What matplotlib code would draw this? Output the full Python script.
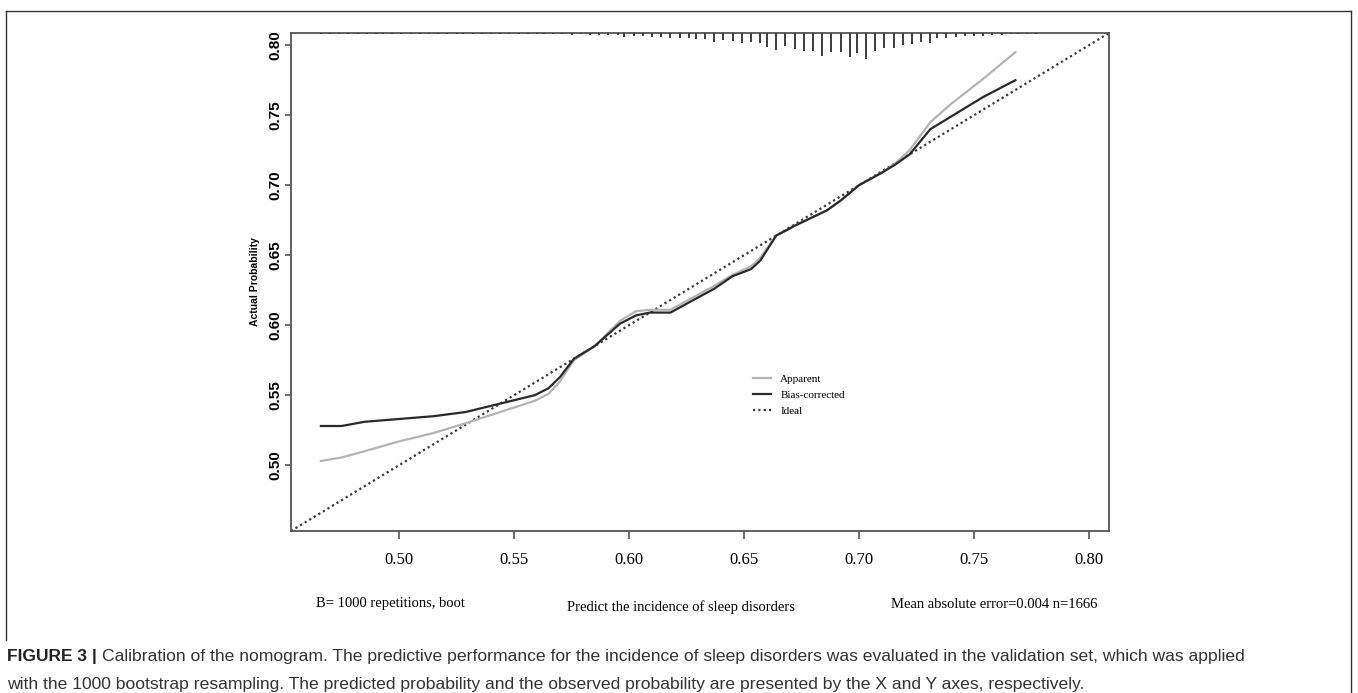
import numpy as np
import matplotlib.pyplot as plt
from matplotlib.lines import Line2D
import matplotlib.transforms as mtransforms

# 곡선 데이터
pred_x = [0.466, 0.475, 0.485, 0.500, 0.515, 0.529, 0.544, 0.559, 0.565, 0.570,
          0.576, 0.585, 0.596, 0.603, 0.609, 0.618, 0.628, 0.637, 0.645, 0.653,
          0.657, 0.664, 0.672, 0.686, 0.692, 0.700, 0.710, 0.716, 0.722, 0.731,
          0.740, 0.754, 0.768]
apparent = [0.503, 0.5055, 0.510, 0.517, 0.523, 0.530, 0.538, 0.546, 0.551, 0.560,
            0.575, 0.585, 0.603, 0.610, 0.611, 0.611, 0.620, 0.628, 0.636, 0.642,
            0.648, 0.664, 0.671, 0.682, 0.689, 0.700, 0.709, 0.716, 0.725, 0.745,
            0.758, 0.776, 0.795]
bias_corrected = [0.528, 0.528, 0.531, 0.533, 0.535, 0.538, 0.544, 0.550, 0.555, 0.563,
                  0.576, 0.585, 0.601, 0.607, 0.609, 0.609, 0.618, 0.626, 0.635, 0.640,
                  0.646, 0.664, 0.671, 0.682, 0.689, 0.700, 0.709, 0.715, 0.722, 0.740,
                  0.749, 0.763, 0.775]

# 상단 rug (예측값 분포)
rug_x = [0.466, 0.470, 0.474, 0.478, 0.482, 0.486, 0.490, 0.493, 0.497, 0.501,
         0.505, 0.509, 0.513, 0.517, 0.521, 0.525, 0.528, 0.532, 0.536, 0.540,
         0.544, 0.548, 0.552, 0.556, 0.560, 0.563, 0.567, 0.571, 0.575, 0.579,
         0.583, 0.587, 0.591, 0.595, 0.598, 0.602, 0.606, 0.610, 0.614, 0.618,
         0.622, 0.626, 0.629, 0.633, 0.637, 0.641, 0.645, 0.649, 0.653, 0.657,
         0.660, 0.664, 0.668, 0.672, 0.676, 0.680, 0.684, 0.688, 0.692, 0.696,
         0.699, 0.703, 0.707, 0.711, 0.715, 0.719, 0.723, 0.727, 0.731, 0.734,
         0.738, 0.742, 0.746, 0.750, 0.754, 0.758, 0.762, 0.766, 0.769, 0.773,
         0.777]
rug_freq = [1, 1, 1, 1, 1, 1, 1.5, 1, 1, 1,
            1, 1, 1, 1, 1, 1, 1, 1, 1, 1,
            1, 1, 1, 1, 1.5, 1, 1.5, 1.5, 2, 1.5,
            2, 2, 2.5, 2, 4.3, 3.3, 3.3, 3.7, 4.3, 5.3,
            5.3, 5.3, 6, 6, 8.7, 6.7, 7.7, 10, 9.3, 10,
            14.3, 16.7, 13.3, 16, 17.7, 17.7, 23.3, 19.3, 19.3, 24.3,
            20, 26, 17.7, 15.3, 15.3, 12, 11, 8.7, 10, 5.3,
            4.7, 4.3, 3.3, 2.7, 2.7, 2, 2, 1.5, 1.5, 1,
            1]

x_ticks = [0.50, 0.55, 0.60, 0.65, 0.70, 0.75, 0.80]
y_ticks = [0.50, 0.55, 0.60, 0.65, 0.70, 0.75, 0.80]

W, H = 1358, 693
fig = plt.figure(figsize=(W / 100, H / 100), dpi=100)
ax = fig.add_axes([291 / W, 1 - 531 / H, (1109 - 291) / W, (531 - 33) / H])

lims = (0.453, 0.8087)
ax.set_xlim(lims)
ax.set_ylim(lims)

# 이상선, apparent, bias-corrected
ax.axline((0.5, 0.5), slope=1, color='#3a3a3a', lw=1.6, ls=(0, (1, 1.4)), label='Ideal', zorder=2)
ax.plot(pred_x, apparent, color='#b4b4b4', lw=1.6, label='Apparent', zorder=3)
ax.plot(pred_x, bias_corrected, color='#2a2a2a', lw=1.6, label='Bias-corrected', zorder=4)

# rug
trans = mtransforms.blended_transform_factory(ax.transData, ax.transAxes)
rug_len = np.array(rug_freq) / max(rug_freq) * 0.052
ax.vlines(rug_x, 1 - rug_len, 1, transform=trans, color='#3c3c3c', lw=1.4, zorder=5)

for s in ax.spines.values():
    s.set_color('#555555')
    s.set_linewidth(1.3)

ax.set_xticks(x_ticks)
ax.set_xticklabels([f'{v:.2f}' for v in x_ticks], fontfamily='Liberation Serif', fontsize=12)
ax.set_yticks(y_ticks)
ax.set_yticklabels([f'{v:.2f}' for v in y_ticks], fontfamily='Liberation Sans',
                   fontweight='bold', fontsize=11, rotation=90, va='center')
ax.tick_params(axis='x', length=6, width=1.2, color='#555555', pad=9)
ax.tick_params(axis='y', length=4.5, width=1.2, color='#555555', pad=2)

ax.set_ylabel('Actual Probability', fontfamily='Liberation Sans', fontweight='bold',
              fontsize=7.5, labelpad=6)

handles, labels = ax.get_legend_handles_labels()
order = [1, 2, 0]
ax.legend([handles[i] for i in order], [labels[i] for i in order],
          loc='upper left', bbox_to_anchor=(0.552, 0.335), frameon=False,
          prop={'family': 'Liberation Serif', 'size': 8}, handlelength=1.7,
          handletextpad=0.8, labelspacing=0.55)

# 하단 텍스트
fig.text(316 / W, 1 - 604 / H, 'B= 1000 repetitions, boot', fontfamily='Liberation Serif',
         fontsize=10.5, ha='left', va='center')
fig.text(681 / W, 1 - 607 / H, 'Predict the incidence of sleep disorders',
         fontfamily='Liberation Serif', fontsize=10.5, ha='center', va='center')
fig.text(1097 / W, 1 - 604 / H, 'Mean absolute error=0.004 n=1666',
         fontfamily='Liberation Serif', fontsize=10.5, ha='right', va='center')

# 그림 테두리
fig.add_artist(Line2D([6 / W, 1351 / W], [1 - 11 / H, 1 - 11 / H], color='#333333', lw=1))
fig.add_artist(Line2D([6 / W, 6 / W], [1 - 11 / H, 1 - 640 / H], color='#333333', lw=1))
fig.add_artist(Line2D([1351 / W, 1351 / W], [1 - 11 / H, 0], color='#333333', lw=1))

# 캡션
cap_bold = fig.text(7 / W, 1 - 657 / H, 'FIGURE 3 |', fontfamily='Liberation Sans',
                    fontweight='bold', fontsize=12.5, color='#222222', ha='left', va='center')
fig.canvas.draw()
bb = cap_bold.get_window_extent()
fig.text((bb.x1 + 5) / W, 1 - 657 / H,
         'Calibration of the nomogram. The predictive performance for the incidence of sleep '
         'disorders was evaluated in the validation set, which was applied',
         fontfamily='Liberation Sans', fontsize=12.6, color='#333333', ha='left', va='center')
fig.text(7 / W, 1 - 685 / H,
         'with the 1000 bootstrap resampling. The predicted probability and the observed '
         'probability are presented by the X and Y axes, respectively.',
         fontfamily='Liberation Sans', fontsize=12.6, color='#333333', ha='left', va='center')

fig.savefig('out.png', dpi=100)
